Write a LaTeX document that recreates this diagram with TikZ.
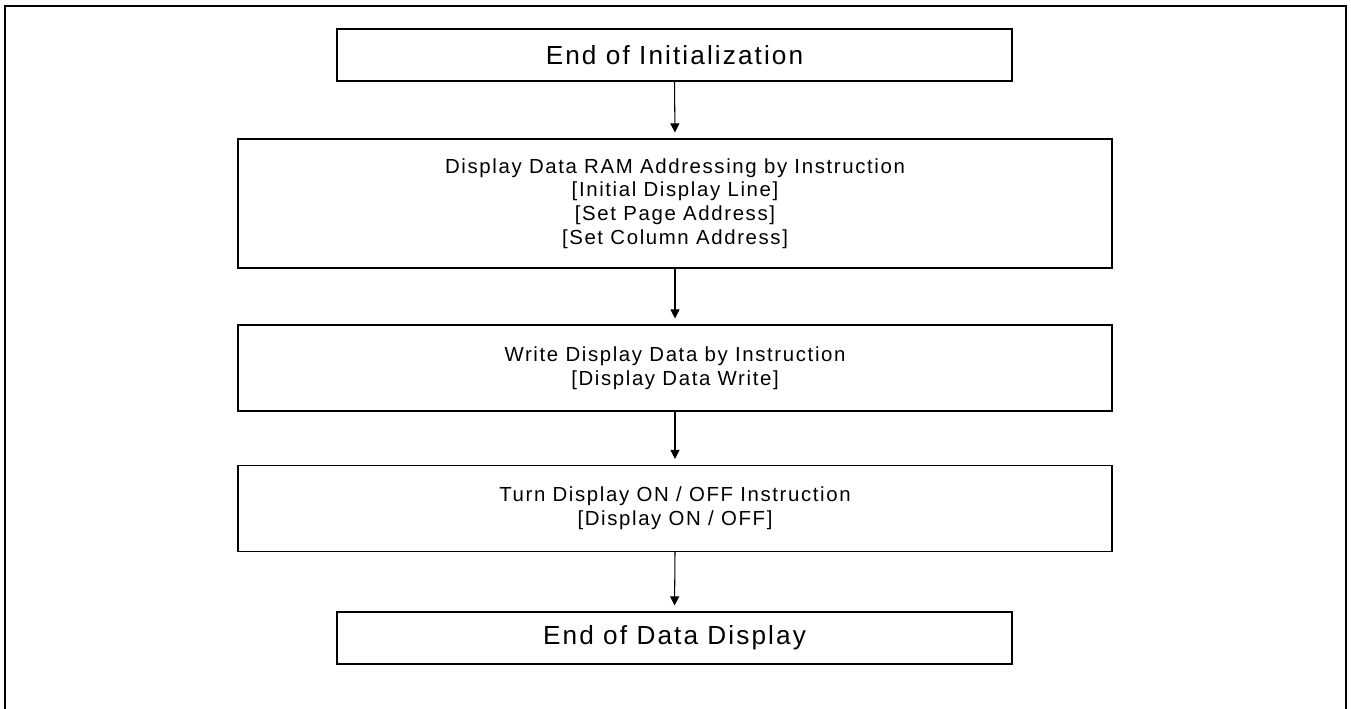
\documentclass[tikz,border=0pt]{standalone}
\usepackage{fontspec}
\setmainfont{Liberation Sans}[LetterSpace=8]
\usetikzlibrary{arrows.meta,positioning}

\begin{document}
\begin{tikzpicture}[
      box/.style={draw=black,line width=0.6pt,align=center,
                  font=\fontsize{11.6}{13.5}\selectfont},
      wide/.style={box,minimum width=17.48cm,minimum height=1.72cm},
      term/.style={box,minimum width=13.5cm,minimum height=1.04cm,
                   font=\fontsize{14.9}{17}\selectfont},
      arr/.style={-{Triangle[length=5.2pt,width=5.2pt]},line width=0.6pt,shorten >=1.2mm},
    ]
    \useasboundingbox (0,0) rectangle (27.02,14.18);
    % Frame
    \draw[line width=1.2pt] (0.1,0) |- (26.92,14.06) -- (26.92,0);
    % Steps
    \node[term] (init) at (13.49,13.08) {End of Initialization};
    \node[wide,minimum height=2.58cm] (ramaddr) at (13.5,10.11)
        {Display Data RAM Addressing by Instruction\\ {[}Initial Display Line]\\
         {[}Set Page Address]\\ {[}Set Column Address]};
    \node[wide] (wrdata) at (13.5,6.82)
        {Write Display Data by Instruction\\ {[}Display Data Write]};
    \node[wide] (dispon) at (13.5,4.01)
        {Turn Display ON / OFF Instruction\\ {[}Display ON / OFF]};
    \node[term] (enddisp) at (13.49,1.42) {End of Data Display};

    \draw[arr] (init.south) -- (ramaddr.north);
    \draw[arr] (ramaddr.south) -- (wrdata.north);
    \draw[arr] (wrdata.south) -- (dispon.north);
    \draw[arr] (dispon.south) -- (enddisp.north);
  \end{tikzpicture}
\end{document}
